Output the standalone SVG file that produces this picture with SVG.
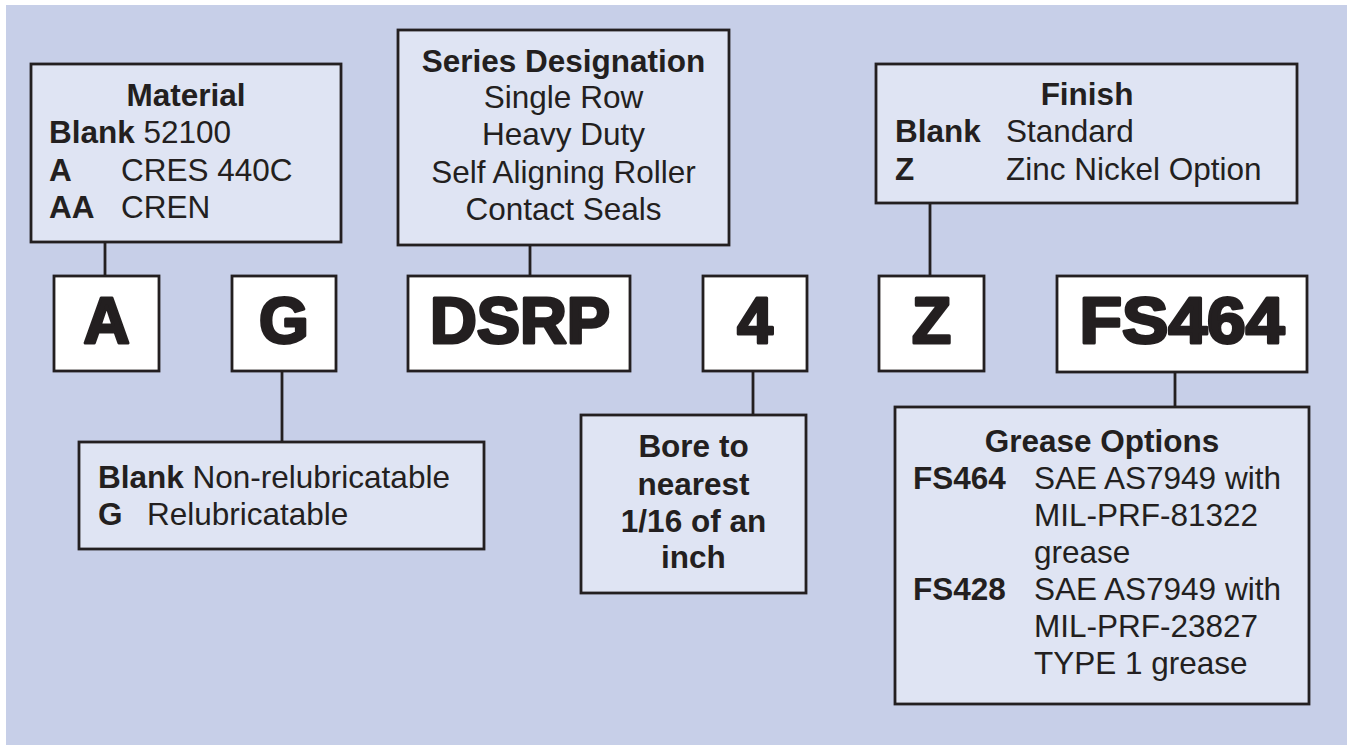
<svg xmlns="http://www.w3.org/2000/svg" width="1347" height="745" viewBox="0 0 1347 745">
<style>
.bg{fill:#c7cfe8}
.box{fill:#dfe4f3;stroke:#231f20;stroke-width:2.8}
.code{fill:#ffffff;stroke:#231f20;stroke-width:2.8}
.t{font-family:"Liberation Sans",Arial,Helvetica,sans-serif;font-size:31.5px;fill:#231f20}
.b{font-weight:bold}
.c{text-anchor:middle}
.big{font-family:"Liberation Sans",Arial,Helvetica,sans-serif;font-size:64px;font-weight:bold;fill:#231f20;stroke:#231f20;stroke-width:3;stroke-linejoin:round;text-anchor:middle}
.conn{stroke:#231f20;stroke-width:2.8;fill:none}
</style>
<rect class="bg" x="6" y="5" width="1341" height="740"/>
<g id="connectors">
<line class="conn" x1="105" y1="242" x2="105" y2="275"/>
<line class="conn" x1="282" y1="371" x2="282" y2="442"/>
<line class="conn" x1="530" y1="245" x2="530" y2="275"/>
<line class="conn" x1="753" y1="371" x2="753" y2="415"/>
<line class="conn" x1="930" y1="203" x2="930" y2="275"/>
<line class="conn" x1="1175" y1="372" x2="1175" y2="407"/>
</g>
<g id="material">
<rect class="box" x="31" y="64" width="310" height="178"/>
<text class="t b c" x="186" y="106">Material</text>
<text class="t" x="49" y="143"><tspan class="b">Blank</tspan> 52100</text>
<text class="t b" x="49" y="181">A</text><text class="t" x="121" y="181">CRES 440C</text>
<text class="t b" x="49" y="218">AA</text><text class="t" x="121" y="218">CREN</text>
</g>
<g id="series">
<rect class="box" x="398" y="30" width="331" height="215"/>
<text class="t b c" x="563.5" y="72">Series Designation</text>
<text class="t c" x="563.5" y="108">Single Row</text>
<text class="t c" x="563.5" y="145">Heavy Duty</text>
<text class="t c" x="563.5" y="183">Self Aligning Roller</text>
<text class="t c" x="563.5" y="220">Contact Seals</text>
</g>
<g id="finish">
<rect class="box" x="876" y="64" width="421" height="139"/>
<text class="t b c" x="1087" y="105">Finish</text>
<text class="t b" x="895" y="142">Blank</text><text class="t" x="1006" y="142">Standard</text>
<text class="t b" x="895" y="180">Z</text><text class="t" x="1006" y="180">Zinc Nickel Option</text>
</g>
<g id="code-a">
<rect class="code" x="54" y="276" width="105" height="95"/>
<text class="big" x="106.5" y="343">A</text>
</g>
<g id="code-g">
<rect class="code" x="232" y="276" width="104" height="95"/>
<text class="big" x="284" y="343">G</text>
</g>
<g id="code-dsrp">
<rect class="code" x="408" y="276" width="222" height="95"/>
<text class="big" x="520" y="343" textLength="180" lengthAdjust="spacingAndGlyphs">DSRP</text>
</g>
<g id="code-4">
<rect class="code" x="703" y="276" width="104" height="95"/>
<text class="big" x="755" y="343">4</text>
</g>
<g id="code-z">
<rect class="code" x="879" y="276" width="105" height="95"/>
<text class="big" x="931.5" y="343">Z</text>
</g>
<g id="code-fs464">
<rect class="code" x="1057" y="276" width="250" height="96"/>
<text class="big" x="1182" y="343" textLength="205" lengthAdjust="spacingAndGlyphs">FS464</text>
</g>
<g id="lubrication">
<rect class="box" x="79" y="442" width="405" height="107"/>
<text class="t" x="98" y="488"><tspan class="b">Blank</tspan> Non-relubricatable</text>
<text class="t b" x="98" y="525">G</text><text class="t" x="147" y="525">Relubricatable</text>
</g>
<g id="bore">
<rect class="box" x="581" y="415" width="225" height="178"/>
<text class="t b c" x="693.5" y="457">Bore to</text>
<text class="t b c" x="693.5" y="495">nearest</text>
<text class="t b c" x="693.5" y="532">1/16 of an</text>
<text class="t b c" x="693.5" y="568">inch</text>
</g>
<g id="grease">
<rect class="box" x="895" y="407" width="414" height="297"/>
<text class="t b c" x="1102" y="452">Grease Options</text>
<text class="t b" x="913" y="489">FS464</text><text class="t" x="1034" y="489">SAE AS7949 with</text>
<text class="t" x="1034" y="526">MIL-PRF-81322</text>
<text class="t" x="1034" y="563">grease</text>
<text class="t b" x="913" y="600">FS428</text><text class="t" x="1034" y="600">SAE AS7949 with</text>
<text class="t" x="1034" y="637">MIL-PRF-23827</text>
<text class="t" x="1034" y="674">TYPE 1 grease</text>
</g>
</svg>
